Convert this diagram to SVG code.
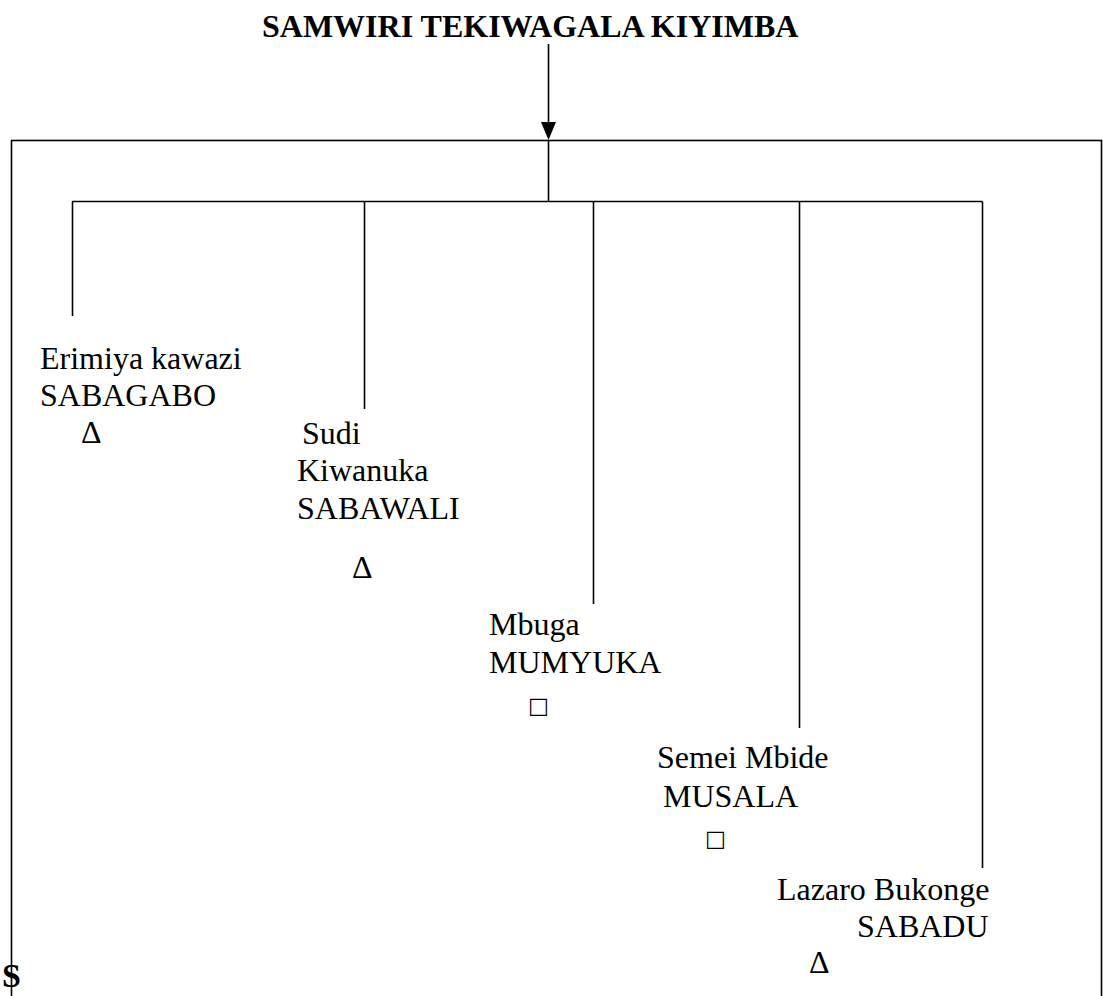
<svg xmlns="http://www.w3.org/2000/svg" width="1103" height="996" viewBox="0 0 1103 996">
<style>
.t{font-family:"Liberation Serif","Times New Roman",serif;font-size:32px;fill:#000}
.b{font-family:"Liberation Serif","Times New Roman",serif;font-weight:bold;fill:#000}
.ln{stroke:#000;stroke-width:1.6;fill:none}
.sq{font-family:"DejaVu Sans",sans-serif;font-size:22px;fill:#000}
</style>
<rect width="1103" height="996" fill="#fff"/>
<text class="b" x="2" y="987" font-size="34">S</text>
<rect x="11.5" y="140.5" width="1090" height="870" fill="#fff" class="ln"/>
<g id="title"><text class="b" x="262" y="37" font-size="32">SAMWIRI TEKIWAGALA KIYIMBA</text></g>
<g id="connectors">
<path d="M548.5,44 V124" class="ln"/>
<path d="M541,122 L556,122 L548.5,140 Z" fill="#000"/>
<path d="M548.5,140 V201.5" class="ln"/>
<path d="M72,201.5 H982.5" class="ln"/>
<path d="M72.5,201.5 V316" class="ln"/>
<path d="M364.5,201.5 V409" class="ln"/>
<path d="M593.5,201.5 V604" class="ln"/>
<path d="M799.5,201.5 V728" class="ln"/>
<path d="M982.5,201.5 V868" class="ln"/>
</g>
<g id="n1"><text class="t" x="40" y="369">Erimiya kawazi</text><text class="t" x="40" y="406">SABAGABO</text><text class="t" x="81" y="443">Δ</text></g>
<g id="n2"><text class="t" x="302" y="444">Sudi</text><text class="t" x="297" y="481">Kiwanuka</text><text class="t" x="297" y="519">SABAWALI</text><text class="t" x="352" y="578">Δ</text></g>
<g id="n3"><text class="t" x="489" y="635">Mbuga</text><text class="t" x="489" y="673">MUMYUKA</text><text class="sq" x="528" y="713">□</text></g>
<g id="n4"><text class="t" x="657" y="768">Semei Mbide</text><text class="t" x="663" y="807">MUSALA</text><text class="sq" x="705" y="846">□</text></g>
<g id="n5"><text class="t" x="777" y="900">Lazaro Bukonge</text><text class="t" x="857" y="937">SABADU</text><text class="t" x="809" y="973">Δ</text></g>
</svg>
